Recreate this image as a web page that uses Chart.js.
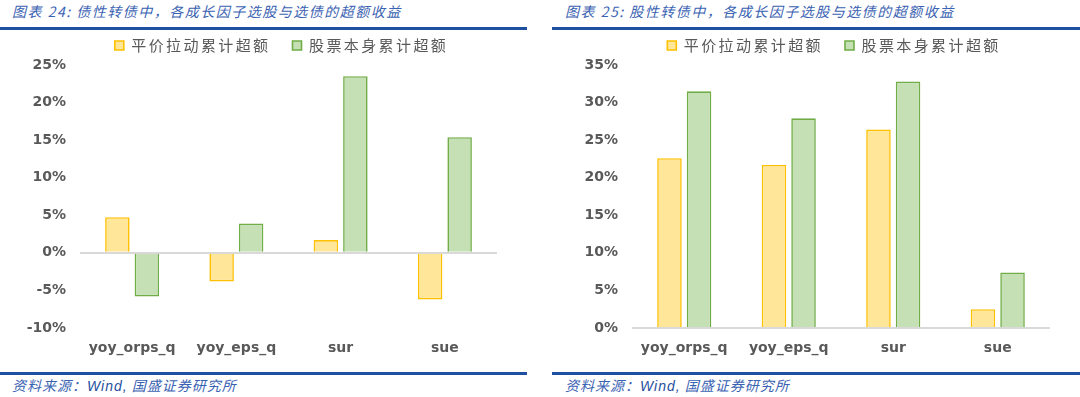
<!DOCTYPE html>
<html><head><meta charset="utf-8">
<script src="https://cdn.jsdelivr.net/npm/chart.js@4.4.0/dist/chart.umd.min.js"></script>
<style>
html,body{margin:0;padding:0;background:#fff;width:1080px;height:397px;overflow:hidden;position:relative;font-family:"Noto Sans CJK SC",sans-serif;}
.title{position:absolute;top:1px;font-size:14px;font-style:italic;color:#3a62b2;letter-spacing:1.5px;white-space:nowrap;}
.rule{position:absolute;height:2.5px;background:#1f4fa0;}
.src{position:absolute;top:375px;font-size:14px;font-style:italic;color:#3a62b2;letter-spacing:1px;white-space:nowrap;}
.src b{font-weight:normal;color:#1f4fa0;font-family:"Liberation Sans",sans-serif;}
canvas{position:absolute;}
</style>
</head><body>
<div class="title" style="left:12px">图表 24:&nbsp;债性转债中，各成长因子选股与选债的超额收益</div>
<div class="title" style="left:565px">图表 25:&nbsp;股性转债中，各成长因子选股与选债的超额收益</div>
<div class="rule" style="left:0;width:527px;top:27px"></div>
<div class="rule" style="left:552px;width:528px;top:27px"></div>
<div class="rule" style="left:0;width:527px;top:372px"></div>
<div class="rule" style="left:552px;width:528px;top:372px"></div>
<div class="src" style="left:12px">资料来源：<b>Wind,</b> 国盛证券研究所</div>
<div class="src" style="left:565px">资料来源：<b>Wind,</b> 国盛证券研究所</div>
<canvas id="c1" width="527" height="350" style="left:0;top:16px"></canvas>
<canvas id="c2" width="528" height="350" style="left:552px;top:16px"></canvas>
<script>
const categories = ['yoy_orps_q', 'yoy_eps_q', 'sur', 'sue'];
const seriesNames = ['平价拉动累计超额', '股票本身累计超额'];
// 图表24 债性转债 (%)
const debtParityExcess = [4.75, -3.8, 1.7, -6.2];
const debtStockExcess = [-5.8, 3.9, 23.5, 15.4];
// 图表25 股性转债 (%)
const equityParityExcess = [22.6, 21.7, 26.4, 2.5];
const equityStockExcess = [31.5, 27.9, 32.8, 7.4];
// y-axis tick values (%)
const leftTicks = [-10, -5, 0, 5, 10, 15, 20, 25];
const rightTicks = [0, 5, 10, 15, 20, 25, 30, 35];

const legendTweak = {
  id: 'legendTweak',
  beforeLayout(chart) {
    const lg = chart.legend;
    if (!lg || lg._tweaked) return;
    lg._tweaked = true;
    const fit = lg.fit, draw = lg.draw;
    lg.fit = function () { const c = this.ctx; c.save(); c.letterSpacing = '2.4px'; fit.call(this); c.restore(); this.height = 49; };
    lg.draw = function () { const c = this.ctx; c.save(); c.letterSpacing = '2.4px'; c.translate(33, 0); draw.call(this); c.restore(); };
  }
};

function makeChart(id, a, b, ticks) {
  return new Chart(document.getElementById(id), {
    type: 'bar',
    data: {
      labels: categories,
      datasets: [
        { label: seriesNames[0], data: a, backgroundColor: '#ffe699', borderColor: '#ffc000', borderWidth: 1.6 },
        { label: seriesNames[1], data: b, backgroundColor: '#c5e0b4', borderColor: '#70ad47', borderWidth: 1.6 }
      ]
    },
    options: {
      responsive: false,
      animation: false,
      devicePixelRatio: 1,
      categoryPercentage: 0.566,
      barPercentage: 0.83,
      layout: { padding: { left: 0, right: 30, top: 0, bottom: 0 } },
      plugins: {
        tooltip: { enabled: false },
        legend: {
          position: 'top',
          labels: {
            boxWidth: 9, boxHeight: 9, padding: 22, color: '#595959',
            font: { family: '"Noto Sans CJK SC"', size: 15 }
          }
        }
      },
      scales: {
        x: {
          grid: { display: false },
          border: { display: false },
          ticks: { color: '#595959', padding: 4, font: { family: '"DejaVu Sans"', size: 14, weight: 'bold' } },
          afterFit(s) { s.height = 38; }
        },
        y: {
          min: ticks[0], max: ticks[ticks.length - 1],
          border: { display: false },
          grid: {
            drawTicks: false,
            lineWidth: 2,
            color: (ctx) => (ctx.tick && ctx.tick.value === 0) ? '#d9d9d9' : 'rgba(0,0,0,0)'
          },
          afterBuildTicks(s) { s.ticks = ticks.map(v => ({ value: v })); },
          ticks: {
            color: '#595959', padding: 14,
            font: { family: '"DejaVu Sans"', size: 14, weight: 'bold' },
            callback: (v) => v + '%'
          },
          afterFit(s) { s.width = 80; }
        }
      }
    },
    plugins: [legendTweak]
  });
}
makeChart('c1', debtParityExcess, debtStockExcess, leftTicks);
makeChart('c2', equityParityExcess, equityStockExcess, rightTicks);
</script>
</body></html>
